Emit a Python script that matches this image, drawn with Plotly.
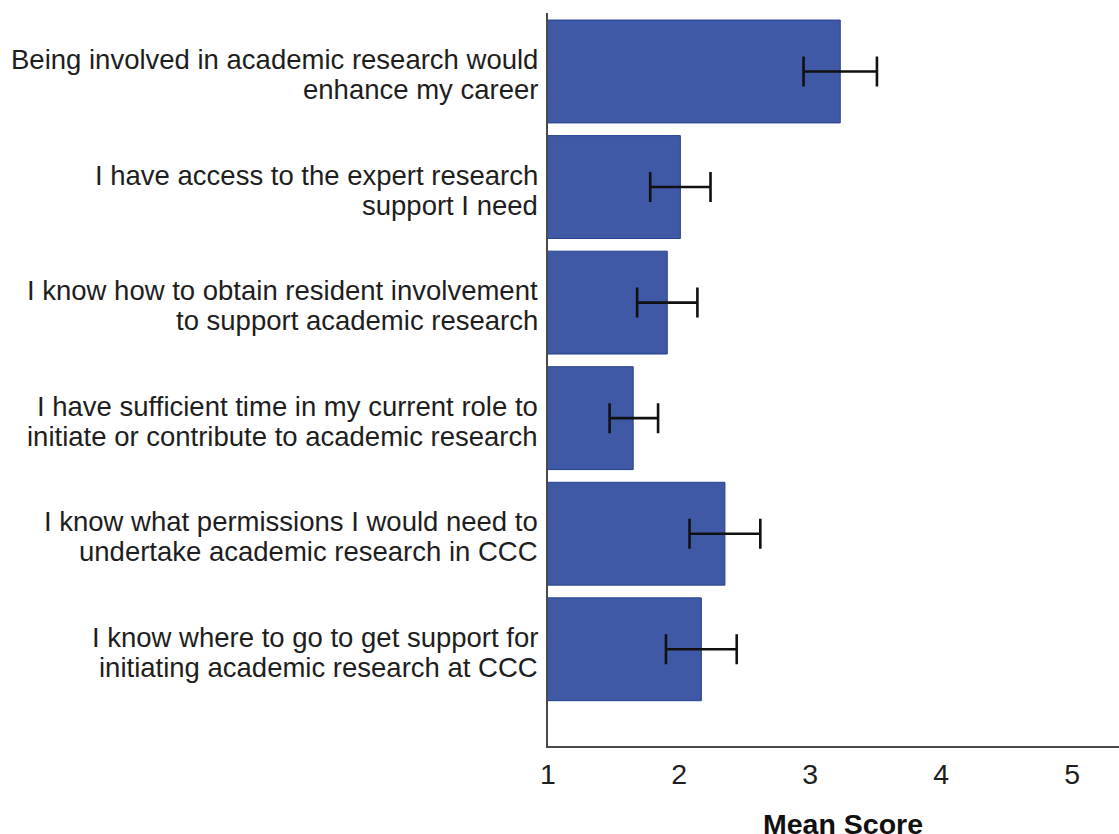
import plotly.graph_objects as go

# Survey statements (top to bottom) and mean agreement scores with 95% CI bounds
statements = [
    "Being involved in academic research would<br>enhance my career",
    "I have access to the expert research<br>support I need",
    "I know how to obtain resident involvement<br>to support academic research",
    "I have sufficient time in my current role to<br>initiate or contribute to academic research",
    "I know what permissions I would need to<br>undertake academic research in CCC",
    "I know where to go to get support for<br>initiating academic research at CCC",
]
mean_score = [3.23, 2.01, 1.91, 1.65, 2.35, 2.17]
ci_lower = [2.95, 1.78, 1.68, 1.47, 2.08, 1.90]
ci_upper = [3.51, 2.24, 2.14, 1.84, 2.62, 2.44]
x_ticks = [1, 2, 3, 4, 5]

err_plus = [u - m for u, m in zip(ci_upper, mean_score)]
err_minus = [m - l for m, l in zip(mean_score, ci_lower)]

FONT = "Liberation Sans, Arial, sans-serif"
TEXT = "#1e1e1e"
AXIS = "#4a4a4a"

fig = go.Figure(
    go.Bar(
        y=statements,
        x=mean_score,
        orientation="h",
        width=0.89,
        marker=dict(color="#3f59a7", line=dict(color="#24408e", width=1)),
        error_x=dict(
            type="data",
            symmetric=False,
            array=err_plus,
            arrayminus=err_minus,
            color="#111111",
            thickness=2.6,
            width=15,
        ),
    )
)

fig.update_layout(
    width=1119,
    height=834,
    margin=dict(l=548, r=0, t=13, b=88),
    paper_bgcolor="white",
    plot_bgcolor="white",
    showlegend=False,
    font=dict(family=FONT, color=TEXT, size=27),
    bargap=0.11,
)

fig.update_xaxes(
    range=[1, 5.357],
    tickvals=x_ticks,
    ticktext=[str(t) for t in x_ticks],
    showgrid=False,
    zeroline=False,
    showline=True,
    linecolor=AXIS,
    linewidth=1.6,
    ticks="outside",
    ticklen=2,
    tickcolor="rgba(0,0,0,0)",
    tickfont=dict(size=28.5, color=TEXT),
)

# Category axis: the statement labels are set as two tightly spaced lines below
fig.update_yaxes(
    type="category",
    categoryorder="array",
    categoryarray=statements,
    range=[5.837, -0.506],
    showgrid=False,
    zeroline=False,
    showline=True,
    linecolor=AXIS,
    linewidth=1.6,
    showticklabels=False,
)

for stmt in statements:
    first, second = stmt.split("<br>")
    for line, shift in ((first, 12), (second, -18)):
        fig.add_annotation(
            text=line,
            xref="paper",
            yref="y",
            x=0,
            y=stmt,
            xanchor="right",
            yanchor="middle",
            xshift=-8,
            yshift=shift,
            showarrow=False,
            font=dict(family=FONT, size=27.5, color=TEXT),
        )

fig.add_annotation(
    text="<b>Mean Score</b>",
    xref="paper",
    yref="paper",
    x=0.517,
    y=-0.106,
    xanchor="center",
    yanchor="middle",
    showarrow=False,
    font=dict(family=FONT, size=28.5, color="#111111"),
)

fig.write_html("out.html")
